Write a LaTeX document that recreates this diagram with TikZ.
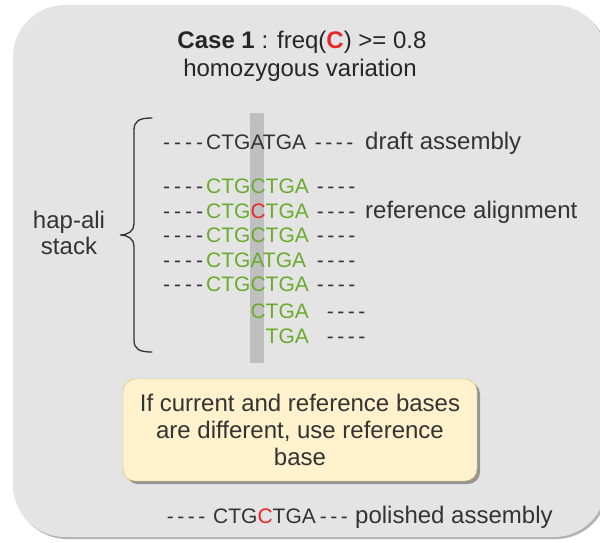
\documentclass[tikz,border=0pt]{standalone}
\usepackage{fontspec}
\setmainfont{Liberation Sans}
\usetikzlibrary{shadows}
\definecolor{boxgray}{HTML}{E4E4E4}
\definecolor{bargray}{HTML}{BFBFBF}
\definecolor{seqgreen}{HTML}{6AAB2E}
\definecolor{basered}{HTML}{E8272B}
\definecolor{txt}{HTML}{333333}
\definecolor{noteyellow}{HTML}{FFF2CC}
\definecolor{notegold}{HTML}{D6B656}
\newcommand\onedash{\makebox[10.5pt]{-}}
\newcommand\lonedash{\makebox[11pt]{-}}
\newcommand\fourdash{\onedash\onedash\onedash\onedash}
\newcommand\leftdash{\lonedash\lonedash\lonedash\lonedash}
\newcommand\threedash{\onedash\onedash\onedash}
\begin{document}
\begin{tikzpicture}[x=1pt,y=-1pt,
  seq/.style={inner sep=0pt, anchor=base west, font=\fontsize{21}{25}\selectfont},
  lbl/.style={inner sep=0pt, anchor=base west, text=txt, font=\fontsize{24}{28}\selectfont},
  dsh/.style={inner sep=0pt, anchor=base west, text=txt, font=\fontsize{21}{25}\selectfont},
  ttl/.style={inner sep=0pt, anchor=base, text=black!85, font=\fontsize{24}{28}\selectfont},
  braceline/.style={draw=txt, line width=1.3pt, line cap=round},
]
\useasboundingbox (0,0) rectangle (600,542);
\begin{scope}
\clip (0,0) rectangle (600,542);
\path[fill=boxgray, rounded corners=52pt,
  drop shadow={shadow xshift=2pt, shadow yshift=-2pt, opacity=0.3, fill=black}]
  (13,5) rectangle (606,537);
\end{scope}
% title
\node[ttl] (title1) at (302,48) {{\bfseries Case 1} : freq({\bfseries\color{basered}C}) >= 0.8};
\node[ttl] (title2) at (300,76) {homozygous variation};
% highlight bar
\node[fill=bargray, minimum width=14pt, minimum height=250pt, inner sep=0pt, anchor=north west] (bar) at (250,113) {};
% draft row
\node[dsh] (d0) at (161,149) {\leftdash};
\node[seq, text=txt] (s0) at (206,149) {CTGATGA};
\node[dsh] (e0) at (313,149) {\fourdash};
\node[lbl] (draft) at (365,149) {draft assembly};
% reads
\node[dsh] (d1) at (161,193) {\leftdash};
\node[seq, text=seqgreen] (s1) at (206,193) {CTGCTGA};
\node[dsh] (e1) at (315,193) {\fourdash};
\node[dsh] (d2) at (161,218) {\leftdash};
\node[seq, text=seqgreen] (s2) at (206,218) {CTG{\color{basered}C}TGA};
\node[dsh] (e2) at (315,218) {\fourdash};
\node[lbl] (refal) at (365,218) {reference alignment};
\node[dsh] (d3) at (161,242) {\leftdash};
\node[seq, text=seqgreen] (s3) at (206,242) {CTGCTGA};
\node[dsh] (e3) at (315,242) {\fourdash};
\node[dsh] (d4) at (161,267) {\leftdash};
\node[seq, text=seqgreen] (s4) at (206,267) {CTGATGA};
\node[dsh] (e4) at (315,267) {\fourdash};
\node[dsh] (d5) at (161,291) {\leftdash};
\node[seq, text=seqgreen] (s5) at (206,291) {CTGCTGA};
\node[dsh] (e5) at (315,291) {\fourdash};
\node[seq, text=seqgreen] (s6) at (206,318) {\phantom{CTG}CTGA};
\node[dsh] (e6) at (325,318) {\fourdash};
\node[seq, text=seqgreen] (s7) at (206,343) {\phantom{CTGC}TGA};
\node[dsh] (e7) at (325,343) {\fourdash};
% brace
\coordinate (btop) at (152,118);
\coordinate (btip) at (120,235);
\coordinate (bbot) at (152,352);
\path[braceline] (btop) .. controls (139,118) and (134,121) .. (134,130) -- (134,224)
  .. controls (134,231) and (128,235) .. (btip)
  .. controls (128,235) and (134,239) .. (134,246) -- (134,340)
  .. controls (134,349) and (139,352) .. (bbot);
\node[inner sep=0pt, text=txt, align=center, font=\fontsize{24}{26}\selectfont, anchor=base] (hap) at (69,254) {hap-ali\\stack};
% note box
\node[draw=notegold, fill=noteyellow, rounded corners=12pt, minimum width=354pt, minimum height=102pt,
  inner sep=0pt, align=center, text=txt, font=\fontsize{24}{27}\selectfont,
  drop shadow={shadow xshift=3pt, shadow yshift=-3pt, opacity=0.35, fill=black}] (note) at (300,430)
  {If current and reference bases\\are different, use reference\\base};
% polished row
\node[dsh] (d8) at (165,523) {\fourdash};
\node[seq, text=txt] (s8) at (213,523) {CTG{\color{basered}C}TGA};
\node[dsh] (e8) at (318,523) {\threedash};
\node[lbl] (polished) at (355,523) {polished assembly};
\end{tikzpicture}
\end{document}
